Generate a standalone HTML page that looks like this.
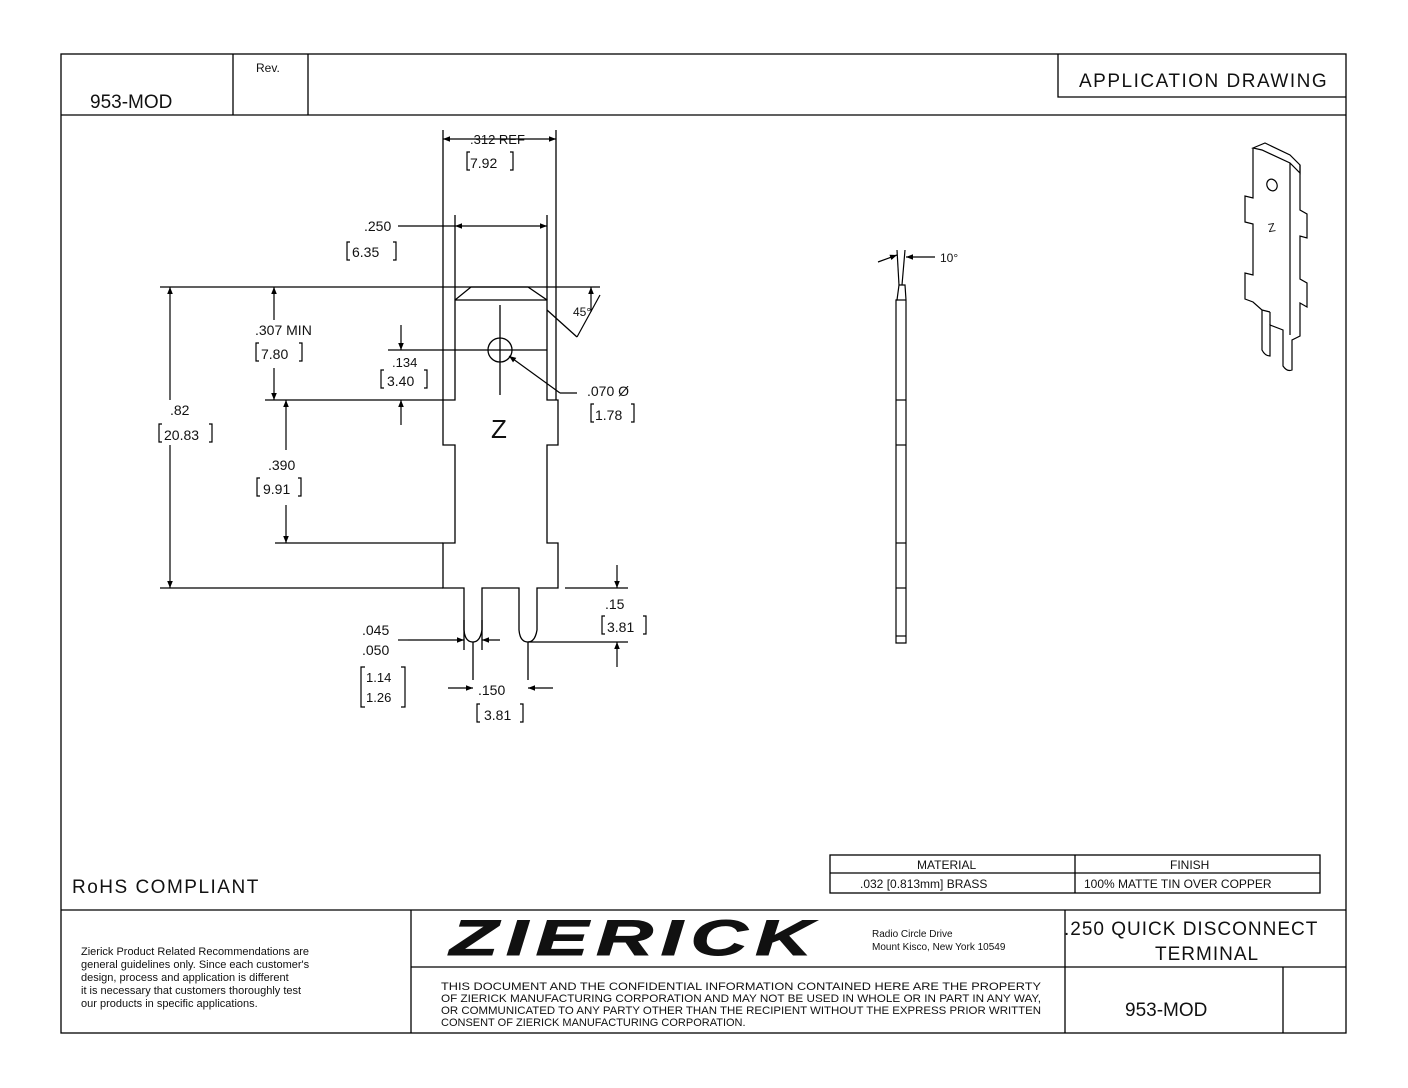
<!DOCTYPE html>
<html><head><meta charset="utf-8"><style>
html,body{margin:0;padding:0;background:#fff}
svg{display:block}
text{font-family:"Liberation Sans",sans-serif;fill:#111}
</style></head><body>
<svg width="1408" height="1088" viewBox="0 0 1408 1088" xmlns="http://www.w3.org/2000/svg">
<defs>
<marker id="a" viewBox="0 0 10 10" refX="10" refY="5" markerWidth="9" markerHeight="7" orient="auto-start-reverse" markerUnits="userSpaceOnUse"><path d="M0,1 L10,5 L0,9 z" fill="#000"/></marker>
<pattern id="h" width="3" height="3" patternUnits="userSpaceOnUse" patternTransform="rotate(60)"><rect width="3" height="3" fill="#fff"/><rect width="1.6" height="3" fill="#111"/></pattern>
</defs>
<g stroke="#000" stroke-width="1.3" fill="none">
<rect x="61" y="54" width="1285" height="979"/>
<line x1="61" y1="115" x2="1346" y2="115"/>
<line x1="233" y1="54" x2="233" y2="115"/>
<line x1="308" y1="54" x2="308" y2="115"/>
<polyline points="1058,54 1058,97 1346,97"/>
<line x1="61" y1="910" x2="1346" y2="910"/>
<line x1="411" y1="910" x2="411" y2="1033"/>
<line x1="1065" y1="910" x2="1065" y2="1033"/>
<line x1="411" y1="967" x2="1346" y2="967"/>
<line x1="1283" y1="967" x2="1283" y2="1033"/>
<rect x="830" y="855" width="490" height="38"/>
<line x1="830" y1="873" x2="1320" y2="873"/>
<line x1="1075" y1="855" x2="1075" y2="893"/>

<path d="M471,287 L528,287 L547,300 L547,400 L558,400 L558,445 L547,445 L547,543 L558,543 L558,588 L537,588 L537,630 Q535,642 528,642 Q520,642 519,630 L519,588 L482,588 L482,630 Q480,642 473,642 Q465,642 464,630 L464,588 L443,588 L443,543 L455,543 L455,445 L443,445 L443,400 L455,400 L455,300 Z"/>
<line x1="443" y1="130" x2="443" y2="400"/>
<line x1="556" y1="130" x2="556" y2="400"/>
<line x1="455" y1="215" x2="455" y2="300"/>
<line x1="547" y1="215" x2="547" y2="300"/>
<line x1="160" y1="287" x2="600" y2="287"/>
<line x1="455" y1="300" x2="547" y2="300"/>
<line x1="160" y1="588" x2="443" y2="588"/>
<line x1="265" y1="400" x2="443" y2="400"/>
<line x1="275" y1="543" x2="443" y2="543"/>
<line x1="388" y1="350" x2="488" y2="350"/>
<line x1="512" y1="350" x2="547" y2="350"/>
<line x1="500" y1="305" x2="500" y2="395"/>
<line x1="488" y1="350" x2="512" y2="350"/>
<circle cx="500" cy="350" r="12"/>
<line x1="547" y1="310" x2="577" y2="337"/>
<line x1="565" y1="588" x2="628" y2="588"/>
<line x1="528" y1="642" x2="628" y2="642"/>
<line x1="473" y1="642" x2="473" y2="680"/>
<line x1="528" y1="642" x2="528" y2="680"/>
<line x1="464" y1="620" x2="464" y2="650"/>
<line x1="482" y1="620" x2="482" y2="650"/>
</g>
<g stroke="#000" stroke-width="1.2" fill="none">
<line x1="443" y1="139" x2="556" y2="139" marker-start="url(#a)" marker-end="url(#a)"/>
<line x1="455" y1="226" x2="547" y2="226" marker-start="url(#a)" marker-end="url(#a)"/>
<line x1="398" y1="226" x2="455" y2="226"/>
<line x1="170" y1="287" x2="170" y2="400" marker-start="url(#a)"/>
<line x1="170" y1="445" x2="170" y2="588" marker-end="url(#a)"/>
<line x1="274" y1="287" x2="274" y2="320" marker-start="url(#a)"/>
<line x1="274" y1="368" x2="274" y2="400" marker-end="url(#a)"/>
<line x1="286" y1="400" x2="286" y2="450" marker-start="url(#a)"/>
<line x1="286" y1="505" x2="286" y2="543" marker-end="url(#a)"/>
<line x1="401" y1="325" x2="401" y2="350" marker-end="url(#a)"/>
<line x1="401" y1="425" x2="401" y2="400" marker-end="url(#a)"/>
<line x1="591" y1="312" x2="591" y2="287" marker-end="url(#a)"/>
<line x1="600" y1="295" x2="577" y2="337"/>
<line x1="577" y1="393" x2="560" y2="393"/>
<line x1="560" y1="393" x2="509" y2="356" marker-end="url(#a)"/>
<line x1="617" y1="565" x2="617" y2="588" marker-end="url(#a)"/>
<line x1="617" y1="667" x2="617" y2="642" marker-end="url(#a)"/>
<line x1="408" y1="640" x2="464" y2="640" marker-end="url(#a)"/>
<line x1="500" y1="640" x2="482" y2="640" marker-end="url(#a)"/>
<line x1="448" y1="688" x2="473" y2="688" marker-end="url(#a)"/>
<line x1="553" y1="688" x2="528" y2="688" marker-end="url(#a)"/>
<line x1="398" y1="640" x2="408" y2="640"/>
<path d="M365,667 h-4 v40 h4 M401,667 h4 v40 h-4"/>
<path d="M897,300 L899,285 L905,285 L906,300 L906,643 L896,643 L896,300 Z"/>
<line x1="896" y1="300" x2="906" y2="300"/>
<line x1="896" y1="400" x2="906" y2="400"/><line x1="896" y1="445" x2="906" y2="445"/>
<line x1="896" y1="543" x2="906" y2="543"/><line x1="896" y1="588" x2="906" y2="588"/>
<line x1="896" y1="636" x2="906" y2="636"/>
<line x1="897" y1="250" x2="899" y2="285"/><line x1="905" y1="250" x2="902" y2="285"/>
<line x1="878" y1="262" x2="897" y2="255" marker-end="url(#a)"/>
<line x1="935" y1="257" x2="906" y2="257" marker-end="url(#a)"/>
<path d="M1253,148 L1265,143 L1290,155 L1300,165 L1300,173 L1290,163 L1262,150 Z"/>
<path d="M1253,148 L1253,198 L1245,196 L1245,222 L1253,224 L1253,275 L1245,273 L1245,299 L1253,302 L1262,310 L1262,350 Q1265,356 1270,356 L1270,325 L1283,330 L1283,366 Q1287,372 1292,370 L1292,340 L1300,336 L1300,303 L1307,307 L1307,283 L1300,279 L1300,236 L1307,238 L1307,214 L1300,210 L1300,165"/>
<line x1="1290" y1="163" x2="1290" y2="335"/>
<line x1="1262" y1="310" x2="1270" y2="312"/><line x1="1270" y1="312" x2="1270" y2="325"/>
<ellipse cx="1272" cy="185" rx="5" ry="6" transform="rotate(-25 1272 185)"/>
</g>
<text x="450" y="955" font-size="50" font-weight="bold" font-style="italic" fill="url(#h)" stroke="#111" stroke-width="1" letter-spacing="5" textLength="370" lengthAdjust="spacingAndGlyphs">ZIERICK</text>

<g font-size="15">
<text x="90" y="108" font-size="19">953-MOD</text>
<text x="256" y="72" font-size="12">Rev.</text>
<text x="1079" y="87" font-size="19" letter-spacing="1.5">APPLICATION DRAWING</text>
<text x="470" y="144" font-size="13">.312 REF</text>
<text x="470" y="168" font-size="14">7.92</text>
<text x="364" y="231" font-size="14">.250</text>
<text x="352" y="257" font-size="14">6.35</text>
<text x="255" y="335" font-size="14">.307 MIN</text>
<text x="261" y="359" font-size="14">7.80</text>
<text x="392" y="367" font-size="13">.134</text>
<text x="387" y="386" font-size="14">3.40</text>
<text x="587" y="396" font-size="14">.070  Ø</text>
<text x="595" y="420" font-size="14">1.78</text>
<text x="170" y="415" font-size="14">.82</text>
<text x="164" y="440" font-size="14">20.83</text>
<text x="491" y="438" font-size="26">Z</text>
<text x="268" y="470" font-size="14">.390</text>
<text x="263" y="494" font-size="14">9.91</text>
<text x="605" y="609" font-size="14">.15</text>
<text x="607" y="632" font-size="14">3.81</text>
<text x="362" y="635" font-size="14">.045</text>
<text x="362" y="655" font-size="14">.050</text>
<text x="366" y="682" font-size="13">1.14</text>
<text x="366" y="702" font-size="13">1.26</text>
<text x="478" y="695" font-size="14">.150</text>
<text x="484" y="720" font-size="14">3.81</text>
<text x="940" y="262" font-size="12">10°</text>
<text x="573" y="316" font-size="12">45°</text>
<text x="1268" y="232" font-size="12" transform="rotate(-10 1270 228)">Z</text>
<text x="917" y="869" font-size="12">MATERIAL</text>
<text x="1170" y="869" font-size="12">FINISH</text>
<text x="860" y="888" font-size="12">.032 [0.813mm] BRASS</text>
<text x="1084" y="888" font-size="12">100% MATTE TIN OVER COPPER</text>
<text x="72" y="893" font-size="19" letter-spacing="1.5">RoHS COMPLIANT</text>
<text x="81" y="955" font-size="11">Zierick Product Related Recommendations are</text>
<text x="81" y="968" font-size="11">general guidelines only. Since each customer's</text>
<text x="81" y="981" font-size="11">design, process and application is different</text>
<text x="81" y="994" font-size="11">it is necessary that customers thoroughly test</text>
<text x="81" y="1007" font-size="11">our products in specific applications.</text>
<text x="872" y="937" font-size="10">Radio Circle Drive</text>
<text x="872" y="950" font-size="10">Mount Kisco, New York 10549</text>
<text x="441" y="990" font-size="11" textLength="600" lengthAdjust="spacingAndGlyphs">THIS DOCUMENT AND THE CONFIDENTIAL INFORMATION CONTAINED HERE ARE THE PROPERTY</text>
<text x="441" y="1002" font-size="11" textLength="600" lengthAdjust="spacingAndGlyphs">OF ZIERICK MANUFACTURING CORPORATION AND MAY NOT BE USED IN WHOLE OR IN PART IN ANY WAY,</text>
<text x="441" y="1014" font-size="11" textLength="600" lengthAdjust="spacingAndGlyphs">OR COMMUNICATED TO ANY PARTY OTHER THAN THE RECIPIENT WITHOUT THE EXPRESS PRIOR WRITTEN</text>
<text x="441" y="1026" font-size="11">CONSENT OF ZIERICK MANUFACTURING CORPORATION.</text>
<text x="1064" y="935" font-size="19" letter-spacing="1">.250 QUICK DISCONNECT</text>
<text x="1155" y="960" font-size="19" letter-spacing="1">TERMINAL</text>
<text x="1125" y="1016" font-size="19">953-MOD</text>
</g>
<g stroke="#000" stroke-width="1.2" fill="none">
<path d="M350,242 h-3 v18 h3 M393,242 h3 v18 h-3"/>
<path d="M470,152 h-3 v18 h3 M510,152 h3 v18 h-3"/>
<path d="M259,343 h-3 v18 h3 M299,343 h3 v18 h-3"/>
<path d="M384,370 h-3 v18 h3 M424,370 h3 v18 h-3"/>
<path d="M594,404 h-3 v18 h3 M631,404 h3 v18 h-3"/>
<path d="M162,424 h-3 v18 h3 M209,424 h3 v18 h-3"/>
<path d="M260,478 h-3 v18 h3 M298,478 h3 v18 h-3"/>
<path d="M605,616 h-3 v18 h3 M643,616 h3 v18 h-3"/>
<path d="M480,704 h-3 v18 h3 M520,704 h3 v18 h-3"/>
</g>
</svg>
</body></html>
